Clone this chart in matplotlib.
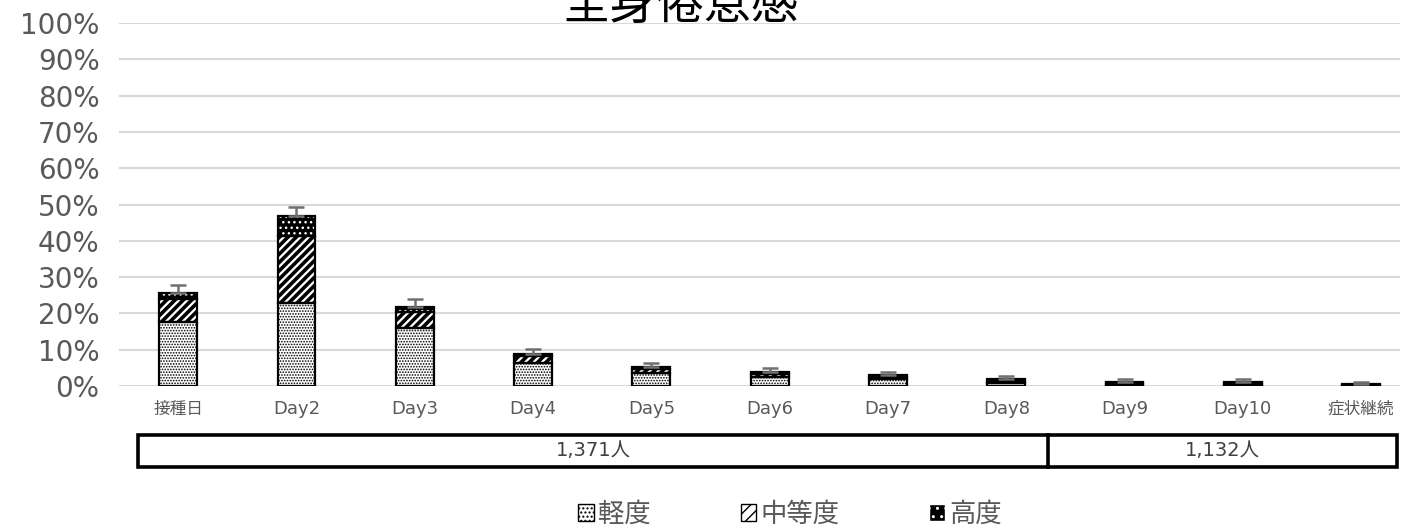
import matplotlib
matplotlib.use("Agg")
import matplotlib.pyplot as plt
from matplotlib.patches import Patch, Rectangle
from matplotlib.lines import Line2D
import numpy as np

plt.rcParams['font.family'] = ['DejaVu Sans', 'Noto Sans CJK JP']

title = "全身倦怠感"
categories = ["接種日", "Day2", "Day3", "Day4", "Day5", "Day6", "Day7", "Day8", "Day9", "Day10", "症状継続"]
mild = [17.6, 22.9, 15.9, 6.2, 3.5, 2.4, 1.8, 0.8, 0.3, 0.3, 0.1]
moderate = [6.4, 18.5, 4.4, 2.0, 1.3, 1.0, 0.8, 0.7, 0.5, 0.5, 0.2]
severe = [1.6, 5.5, 1.4, 0.5, 0.5, 0.4, 0.4, 0.4, 0.4, 0.4, 0.2]
err = [2.2, 2.5, 2.3, 1.6, 1.1, 1.2, 0.9, 0.8, 0.6, 0.6, 0.5]
series_labels = ["軽度", "中等度", "高度"]
yticks = list(range(0, 101, 10))
groups = [("1,371人", 138, 1048), ("1,132人", 1048, 1397)]

W, H = 1406, 530
fig = plt.figure(figsize=(W / 100, H / 100), dpi=100)
ax_left, ax_right, ax_bot, ax_top = 119, 1400, 386, 23
ax = fig.add_axes([ax_left / W, (H - ax_bot) / H, (ax_right - ax_left) / W, (ax_bot - ax_top) / H])

x = np.arange(len(categories))
width = 0.32
mild_a = np.array(mild)
mod_a = np.array(moderate)
sev_a = np.array(severe)
total = mild_a + mod_a + sev_a

gridc = '#d9d9d9'
for t in yticks:
    ax.axhline(t, color=gridc, lw=1.5, zorder=0)


def set_hlw(container, lw):
    for p in container:
        if hasattr(p, 'set_hatch_linewidth'):
            p.set_hatch_linewidth(lw)


b1 = ax.bar(x, mild_a, width, color='white', edgecolor='black', hatch='......', lw=0, zorder=2)
set_hlw(b1, 0.8)
b2 = ax.bar(x, mod_a, width, bottom=mild_a, color='white', edgecolor='black', hatch='////', lw=0, zorder=2)
set_hlw(b2, 2.6)
b3 = ax.bar(x, sev_a, width, bottom=mild_a + mod_a, color='black', edgecolor='white', hatch='...', lw=0, zorder=2)
set_hlw(b3, 1.0)
# outlines
ax.bar(x, mild_a, width, fill=False, edgecolor='black', lw=1.6, zorder=3)
ax.bar(x, mod_a, width, bottom=mild_a, fill=False, edgecolor='black', lw=1.6, zorder=3)
ax.bar(x, sev_a, width, bottom=mild_a + mod_a, fill=False, edgecolor='black', lw=1.6, zorder=3)

ax.errorbar(x, total, yerr=[np.zeros_like(total), np.array(err)], fmt='none',
            ecolor='#707070', elinewidth=1.8, capsize=6, capthick=1.8, zorder=4)

ax.set_xlim(-0.5, -0.5 + (ax_right - ax_left) / 118.3)
ax.set_ylim(0, 100)
ax.set_yticks(yticks)
ax.set_yticklabels([f"{t}%" for t in yticks], fontsize=20, color='#595959')
ax.set_xticks(x)
ax.set_xticklabels(categories, color='#595959')
for lbl, c in zip(ax.get_xticklabels(), categories):
    lbl.set_fontsize(12 if c in ("接種日", "症状継続") else 13)
ax.tick_params(axis='y', length=0, pad=14)
ax.tick_params(axis='x', length=0, pad=10)
for s in ax.spines.values():
    s.set_visible(False)

fig.text(680 / W, 1 - 19 / H, title, ha='center', va='baseline', fontsize=34, color='black')

# group box
bt, bb = 435, 467
lw_box = 2.6
fig.patches.append(Rectangle((138 / W, (H - bb) / H), (1397 - 138) / W, (bb - bt) / H,
                             transform=fig.transFigure, fill=False, edgecolor='black', lw=lw_box))
fig.lines.append(Line2D([1048 / W, 1048 / W], [(H - bb) / H, (H - bt) / H],
                        transform=fig.transFigure, color='black', lw=lw_box))
for lab, x0, x1 in groups:
    fig.text((x0 + x1) / 2 / W, (H - (bt + bb) / 2) / H, lab, ha='center', va='center',
             fontsize=14, color='#404040')

handles = [
    Patch(facecolor='white', edgecolor='black', hatch='....', lw=1),
    Patch(facecolor='white', edgecolor='black', hatch='///', lw=1),
    Patch(facecolor='black', edgecolor='white', hatch='..', lw=1),
]
leg = fig.legend(handles, series_labels, loc='center', bbox_to_anchor=(790 / W, 15 / H), ncol=3,
                 frameon=False, fontsize=19, handlelength=0.6, handleheight=0.6,
                 handletextpad=0.15, columnspacing=3.4, labelcolor='#595959')

fig.savefig('out.png', dpi=100)
